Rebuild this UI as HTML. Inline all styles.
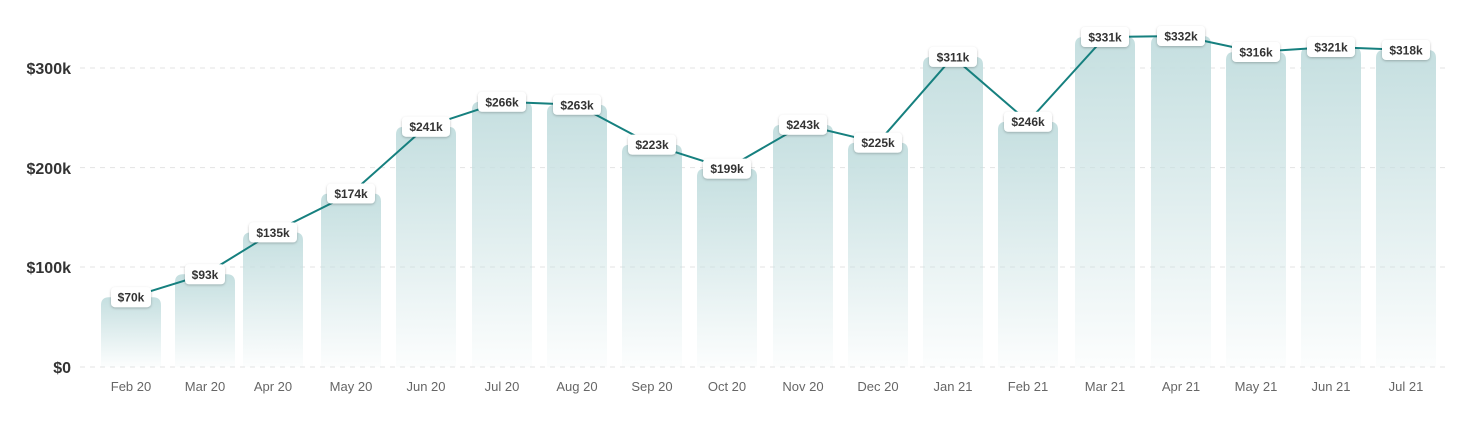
<!DOCTYPE html>
<html><head><style>
body{margin:0;background:#fff;}
svg{display:block;font-family:"Liberation Sans",sans-serif;}
</style></head><body>
<svg id="c" width="1463" height="421" xmlns="http://www.w3.org/2000/svg">
<defs>
<linearGradient id="g" x1="0" y1="0" x2="0" y2="1" gradientUnits="objectBoundingBox">
<stop offset="0" stop-color="#c5dfe0"/><stop offset="1" stop-color="#c5dfe0" stop-opacity="0.05"/>
</linearGradient>
<filter id="s" x="-20%" y="-30%" width="140%" height="170%"><feDropShadow dx="0" dy="1" stdDeviation="1.2" flood-color="#000" flood-opacity="0.25"/></filter>
</defs>
<g stroke="#e3e3e3" stroke-dasharray="5,5" stroke-width="1">
<line x1="80" y1="367" x2="1450" y2="367"/><line x1="80" y1="267" x2="1450" y2="267"/>
<line x1="80" y1="167.6" x2="1450" y2="167.6"/><line x1="80" y1="68" x2="1450" y2="68"/>
</g>
<g font-size="16" font-weight="bold" fill="#333" text-anchor="end">
<text x="71" y="373">$0</text><text x="71" y="273">$100k</text><text x="71" y="174">$200k</text><text x="71" y="74">$300k</text>
</g>
<g id="bars"></g><path id="ln" fill="none" stroke="#16807f" stroke-width="2"/><g id="lb"></g><g id="xl" font-size="13" fill="#666" text-anchor="middle"></g>
</svg>
<script>
const v=[70,93,135,174,241,266,263,223,199,243,225,311,246,331,332,316,321,318];
const C=[131,205,273,351,426,502,577,652,727,803,878,953,1028,1105,1181,1256,1331,1406];
const m=["Feb 20","Mar 20","Apr 20","May 20","Jun 20","Jul 20","Aug 20","Sep 20","Oct 20","Nov 20","Dec 20","Jan 21","Feb 21","Mar 21","Apr 21","May 21","Jun 21","Jul 21"];
const Y=x=>367-x*0.997;
let b="",l="",d="",xl="";
v.forEach((x,i)=>{const cx=C[i],y=Y(x),r=8;
b+=`<path fill="url(#g)" d="M${cx-30},367V${y+r}Q${cx-30},${y} ${cx-30+r},${y}H${cx+30-r}Q${cx+30},${y} ${cx+30},${y+r}V367Z"/>`;
d+=(i?"L":"M")+cx+","+y;
const t="$"+x+"k",w=t.length*8+8;
l+=`<rect x="${cx-w/2}" y="${y-10}" width="${w}" height="20" rx="4" fill="#fff" filter="url(#s)"/><text x="${cx}" y="${y+4.5}" font-size="12" font-weight="bold" fill="#333" text-anchor="middle">${t}</text>`;
xl+=`<text x="${cx}" y="391">${m[i]}</text>`;});
document.getElementById("bars").innerHTML=b;document.getElementById("ln").setAttribute("d",d);
document.getElementById("lb").innerHTML=l;document.getElementById("xl").innerHTML=xl;
</script>
</body></html>
